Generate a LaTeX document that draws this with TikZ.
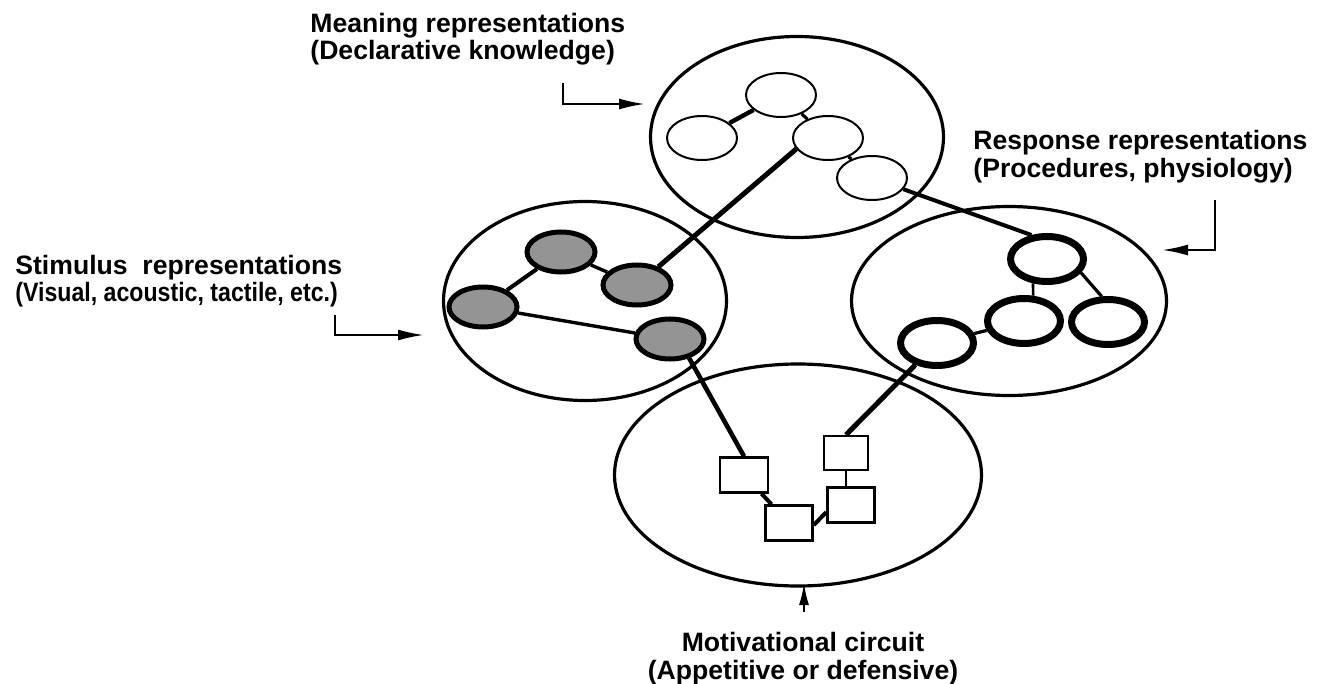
\documentclass[tikz,border=0pt]{standalone}
\usepackage{graphicx}
\usepackage{fontspec}
\setmainfont{Liberation Sans}
\usetikzlibrary{shapes.geometric,arrows.meta}
\begin{document}
\begin{tikzpicture}[x=0.5pt,y=-0.5pt,
  region/.style={ellipse,draw,line width=1.6pt,inner sep=0pt},
  meannode/.style={ellipse,draw,fill=white,line width=1pt,inner sep=0pt,minimum width=35pt,minimum height=22pt},
  stimnode/.style={ellipse,draw,fill=black!42,line width=2.5pt,inner sep=0pt,minimum width=34pt,minimum height=20pt},
  respnode/.style={ellipse,draw,fill=white,line width=3.5pt,inner sep=0pt,minimum width=36.5pt,minimum height=22.5pt},
  motbox/.style={rectangle,draw,fill=white,line width=1.2pt,inner sep=0pt,minimum width=23.5pt,minimum height=17.5pt},
  link/.style={line width=#1},
  lbl/.style={inner sep=0pt,font=\bfseries\fontsize{13.3}{#1}\selectfont},
  pointer/.style={line width=1.1pt,-{Latex[length=13pt,width=5.5pt]}},
]
\fill[white] (0,0) rectangle (1322,684);
\useasboundingbox (0,0) rectangle (1322,684);

% big regions
\node[region,minimum width=146.5pt,minimum height=100.5pt] (mean) at (797,137) {};
\node[region,minimum width=141.5pt,minimum height=99.5pt] (stim) at (585,301) {};
\node[region,minimum width=157.5pt,minimum height=94.5pt] (resp) at (1009,301) {};
\node[region,minimum width=183.5pt,minimum height=111pt] (motiv) at (798,475) {};

% meaning nodes
\node[meannode] (E1) at (781,95) {};
\node[meannode] (E2) at (702,138) {};
\node[meannode] (E3) at (828,138) {};
\node[meannode] (E4) at (872,178) {};

% stimulus nodes
\node[stimnode] (S1) at (561,252) {};
\node[stimnode] (S2) at (637,285) {};
\node[stimnode] (S3) at (483,307) {};
\node[stimnode] (S4) at (670,339) {};

% response nodes
\node[respnode] (R1) at (1047,259) {};
\node[respnode] (R2) at (1024,321) {};
\node[respnode] (R3) at (1108,322) {};
\node[respnode] (R4) at (937,343) {};

% motivational boxes
\node[motbox,minimum width=24pt] (M1) at (744,475) {};
\node[motbox] (M2) at (789,523) {};
\node[motbox,minimum width=22pt,minimum height=17pt] (M3) at (846,453) {};
\node[motbox] (M4) at (851,505) {};

% connectors
\draw[link=2.2pt] (E1) -- (E2);
\draw[link=1.6pt] (E1) -- (E3);
\draw[link=1.6pt] (E3) -- (E4);
\draw[link=2.5pt] (S2) -- (E3.199);
\draw[link=2pt] (E4) -- (R1.123);
\draw[link=2pt] (S1) -- (S3);
\draw[link=1.7pt] (S1) -- (S2);
\draw[link=1.7pt] (S3) -- (S4);
\draw[link=2.3pt] (S4.-45) -- (M1.north);
\draw[link=1.3pt] (R1.240) -- (R2.70);
\draw[link=1.6pt] (R1.-22) -- (R3.104);
\draw[link=1.6pt] (R2) -- (R4);
\draw[link=2.5pt] (R4) -- (M3.north);
\draw[link=2pt] (M1) -- (M2);
\draw[link=2pt] (M2.-5) -- (M4.196);
\draw[link=1.3pt] (M3.south) -- (M3.south |- M4.north);

% labels
\node[lbl=12,anchor=north west,align=left] (meanlbl) at (310,13)
  {Meaning representations\\(Declarative knowledge)};
\node[lbl=12,anchor=north west,align=left] (stimlbl) at (15,255)
  {Stimulus\ \ representations\\\scalebox{0.87}[1]{(Visual, acoustic, tactile, etc.)}};
\node[lbl=14,anchor=north west,align=left] (resplbl) at (973,130)
  {Response representations\\(Procedures, physiology)};
\node[lbl=14,anchor=north,align=center] (motlbl) at (803,632)
  {Motivational circuit\\(Appetitive or defensive)};

% pointers
\coordinate (ma0) at (563,83);  \coordinate (ma1) at (645,104);
\draw[pointer] (ma0) |- (ma1);
\coordinate (sa0) at (335,315); \coordinate (sa1) at (424,335);
\draw[pointer] (sa0) |- (sa1);
\coordinate (ra0) at (1215,200); \coordinate (ra1) at (1162,250);
\draw[pointer] (ra0) |- (ra1);
\coordinate (pa0) at (804,612); \coordinate (pa1) at (804,583);
\draw[line width=1.1pt,-{Latex[length=11pt,width=5pt]}] (pa0) -- (pa1);
\end{tikzpicture}
\end{document}
